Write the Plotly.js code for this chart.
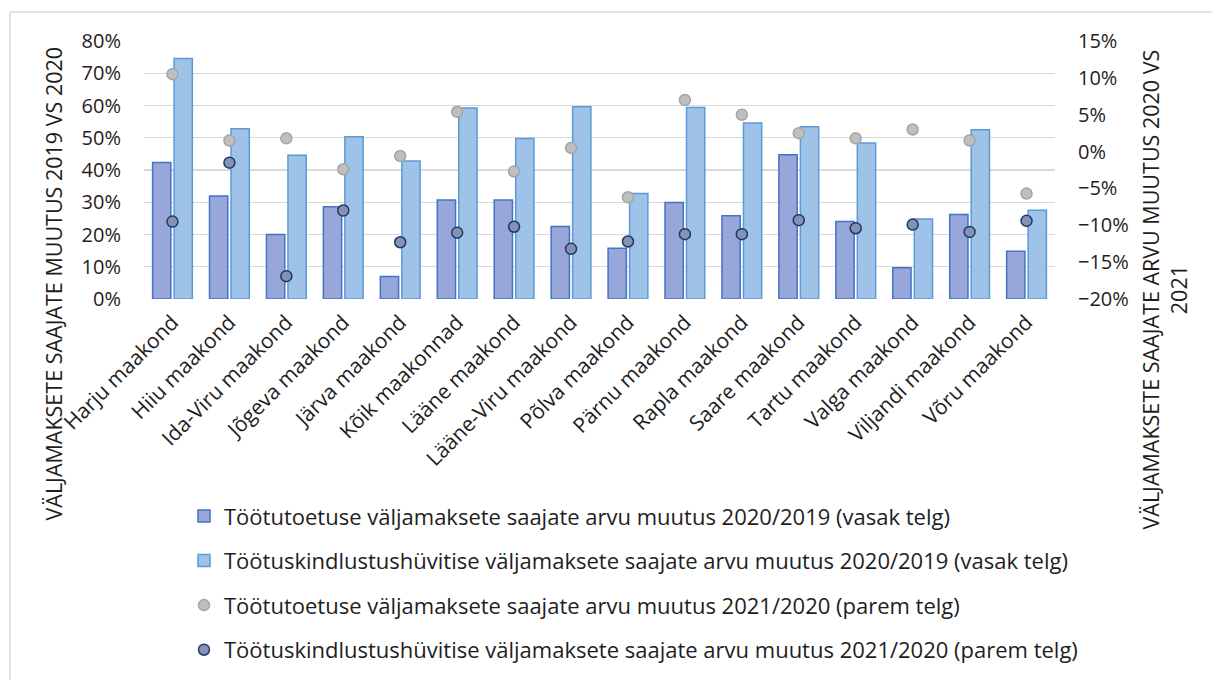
<!DOCTYPE html>
<html>
<head>
<meta charset="utf-8">
<script src="https://cdn.plot.ly/plotly-3.0.1.min.js"></script>
<style>html,body{margin:0;padding:0;background:#fff;}#chart{width:1212px;height:680px;}</style>
</head>
<body>
<div id="chart"></div>
<script>
const categories = ['Harju maakond','Hiiu maakond','Ida-Viru maakond','Jõgeva maakond','Järva maakond','Kõik maakonnad','Lääne maakond','Lääne-Viru maakond','Põlva maakond','Pärnu maakond','Rapla maakond','Saare maakond','Tartu maakond','Valga maakond','Viljandi maakond','Võru maakond'];
const toetus2020 = [42.3,31.9,20.0,28.6,7.0,30.7,30.7,22.5,15.7,29.9,25.8,44.7,24.0,9.7,26.2,14.8];
const huvitis2020 = [74.6,52.8,44.6,50.3,42.8,59.2,49.8,59.6,32.7,59.4,54.6,53.4,48.4,24.8,52.5,27.5];
const toetus2021 = [10.5,1.5,1.8,-2.4,-0.6,5.4,-2.7,0.5,-6.2,7.0,5.0,2.5,1.8,3.0,1.5,-5.7];
const huvitis2021 = [-9.5,-1.5,-16.9,-8.0,-12.3,-11.0,-10.2,-13.2,-12.2,-11.2,-11.2,-9.3,-10.4,-9.9,-10.9,-9.4];
const seriesNames = [
  'Töötutoetuse väljamaksete saajate arvu muutus 2020/2019 (vasak telg)',
  'Töötuskindlustushüvitise väljamaksete saajate arvu muutus 2020/2019 (vasak telg)',
  'Töötutoetuse väljamaksete saajate arvu muutus 2021/2020 (parem telg)',
  'Töötuskindlustushüvitise väljamaksete saajate arvu muutus 2021/2020 (parem telg)'
];
const leftTitle = 'VÄLJAMAKSETE SAAJATE MUUTUS 2019 VS 2020';
const rightTitle = 'VÄLJAMAKSETE SAAJATE ARVU MUUTUS 2020 VS<br>2021';

const W = 1212, H = 680;
const L = 144, R = 1055, T = 41, B = 299.5;
const px = x => (x - L) / (R - L);
const py = y => 1 - (y - T) / (B - T);
const FONT = '"Open Sans", sans-serif';
const TXT = '#1e1e1e';

const traces = [
  {type:'bar', x:categories, y:toetus2020, name:seriesNames[0], legendgroup:'a',
   marker:{color:'#98A7DA', line:{color:'#4472C4', width:1.5}}},
  {type:'bar', x:categories, y:huvitis2020, name:seriesNames[1], legendgroup:'b',
   marker:{color:'#9FC3E8', line:{color:'#5B9BD5', width:1.5}}},
  {type:'scatter', mode:'markers', x:categories, y:toetus2021, yaxis:'y2', name:seriesNames[2], legendgroup:'c',
   marker:{symbol:'circle', size:11, color:'#BFBFBF', line:{color:'#A5A5A5', width:1.5}}},
  {type:'scatter', mode:'markers', x:categories, y:huvitis2021, yaxis:'y2', name:seriesNames[3], legendgroup:'d',
   marker:{symbol:'circle', size:11, color:'#8493B5', line:{color:'#1F3864', width:1.5}}}
];

const layout = {
  width:W, height:H,
  margin:{l:L, r:W-R, t:T, b:H-B, autoexpand:false},
  paper_bgcolor:'#fff', plot_bgcolor:'#fff',
  font:{family:FONT, color:TXT, size:20},
  barmode:'group', bargap:0.245, bargroupgap:0.15,
  showlegend:true,
  legend:{x:px(184), xanchor:'left', y:py(496), yanchor:'top', orientation:'v',
          font:{family:FONT, size:22, color:TXT}, tracegroupgap:13, bgcolor:'rgba(0,0,0,0)'},
  xaxis:{type:'category', range:[-0.5, categories.length - 0.5], tickangle:-45,
         tickfont:{family:FONT, size:21, color:TXT},
         showgrid:false, showline:false, ticks:'', zeroline:false, fixedrange:true, ticklabelstandoff:6},
  yaxis:{range:[0,80], dtick:10, ticksuffix:'%', showgrid:true, gridcolor:'#D9D9D9', gridwidth:1.3,
         zeroline:false, showline:false, ticks:'', tickfont:{family:FONT, size:20, color:TXT}, ticklabelstandoff:22},
  yaxis2:{range:[-20,15], dtick:5, ticksuffix:'%', overlaying:'y', side:'right', showgrid:false,
          zeroline:false, showline:false, ticks:'', tickfont:{family:FONT, size:20, color:TXT}, ticklabelstandoff:22},
  shapes:[{type:'rect', xref:'paper', yref:'paper', x0:px(10), x1:px(1300), y0:py(12), y1:py(800),
           line:{color:'#D9D9D9', width:1.5}, fillcolor:'rgba(0,0,0,0)', layer:'below'}],
  annotations:[
    {xref:'paper', yref:'paper', x:px(54), y:py(284), text:leftTitle, textangle:-90, showarrow:false,
     font:{family:FONT, size:21.5, color:TXT}, xanchor:'center', yanchor:'middle'},
    {xref:'paper', yref:'paper', x:px(1165), y:py(290), text:rightTitle, textangle:-90, showarrow:false,
     font:{family:FONT, size:21.5, color:TXT}, xanchor:'center', yanchor:'middle', align:'center'}
  ]
};

Plotly.newPlot('chart', traces, layout, {displayModeBar:false, staticPlot:true});
</script>
</body>
</html>
